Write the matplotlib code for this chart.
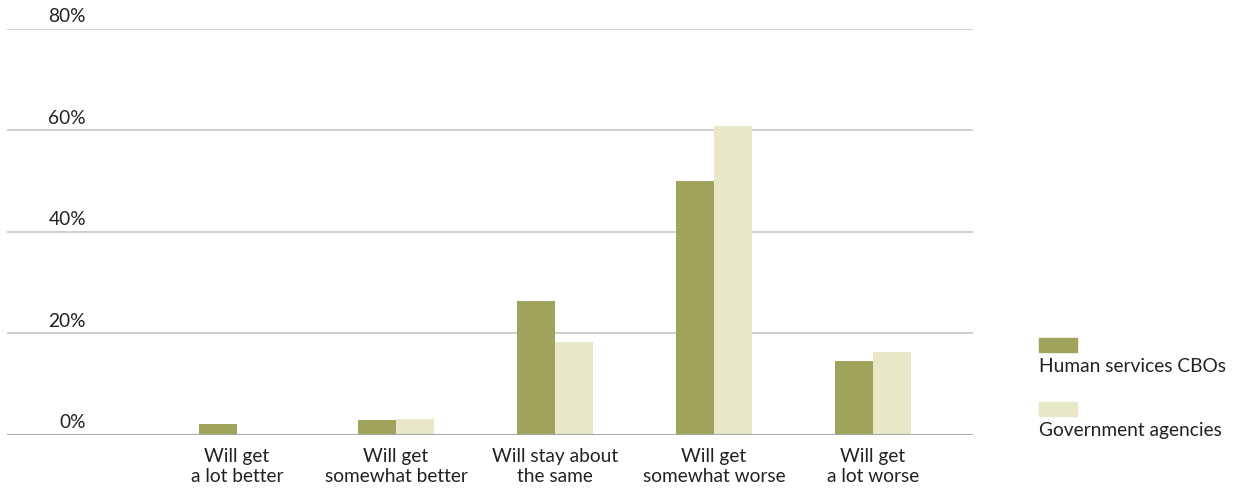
import matplotlib
matplotlib.use('Agg')
import matplotlib.pyplot as plt
import matplotlib.transforms as mtransforms
import numpy as np

plt.rcParams['font.family'] = ['Lato', 'DejaVu Sans']

#---------------------------------------------------------
# data
#---------------------------------------------------------

categories = ['Will get\na lot better', 'Will get\nsomewhat better', 'Will stay about\nthe same',
              'Will get\nsomewhat worse', 'Will get\na lot worse']
cbo_vals = [2.1, 2.9, 26.4, 50.1, 14.5]
gov_vals = [0.0, 3.1, 18.3, 60.9, 16.3]
series_names = ['Human services CBOs', 'Government agencies']
yticks = [0, 20, 40, 60, 80]

CBO_COLOR = '#9fa35b'
GOV_COLOR = '#e8e8c8'
TEXT_COLOR = '#222222'
FS = 13.8

#---------------------------------------------------------
# figure
#---------------------------------------------------------

fig = plt.figure(figsize=(12.36, 4.9), dpi=100)
ax = fig.add_axes([7/1236, 55/490, 966/1236, 406/490])

x = np.arange(len(categories))
w = 0.239
ax.bar(x - w/2, cbo_vals, w, color=CBO_COLOR, zorder=3)
ax.bar(x + w/2, gov_vals, w, color=GOV_COLOR, zorder=3)

ax.set_xlim(-1.447, 4.629)
ax.set_ylim(0, 80)

# gridlines
for t in yticks[1:]:
    ax.axhline(t, color='#cccccc', lw=1.3, zorder=1)
ax.axhline(0, color='#aaaaaa', lw=2.2, zorder=4)

for s in ax.spines.values():
    s.set_visible(False)
ax.set_yticks([])
ax.set_xticks(x)
ax.set_xticklabels(categories, fontsize=FS, color=TEXT_COLOR, linespacing=1.22)
ax.tick_params(axis='x', length=0, pad=9)

# y labels sit above the lines
trans = mtransforms.blended_transform_factory(ax.transAxes, ax.transData)
for t in yticks:
    ax.annotate('{0:d}%'.format(t), xy=(0.0818, t), xycoords=trans, xytext=(0, 2.6),
                textcoords='offset points', ha='right', va='bottom', fontsize=FS, color=TEXT_COLOR)

# legend drawn by hand
legend_y = [338, 402]
for i, (name, col) in enumerate(zip(series_names, [CBO_COLOR, GOV_COLOR])):
    top = 1 - legend_y[i]/490
    fig.patches.append(plt.Rectangle((1039/1236, top - 14/490), 38/1236, 14/490,
                                     transform=fig.transFigure, color=col))
    fig.text(1039/1236, top - 34/490, name, fontsize=FS, color=TEXT_COLOR, ha='left', va='baseline')

plt.savefig('out.png', dpi=100)
